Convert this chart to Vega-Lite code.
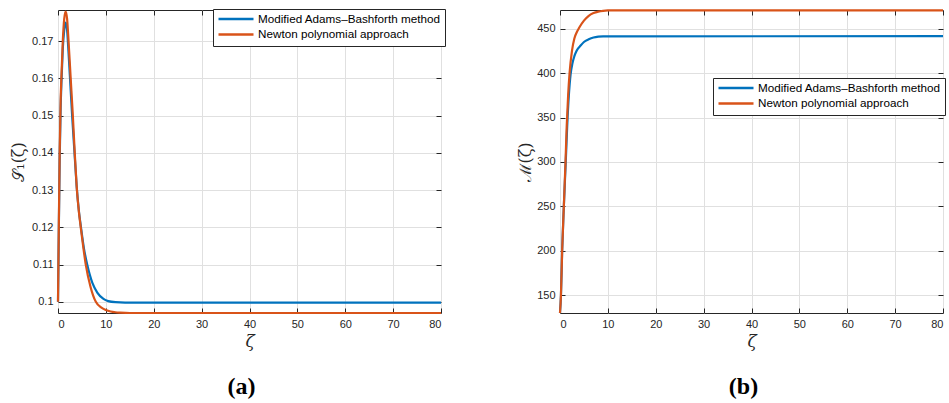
{
  "$schema": "https://vega.github.io/schema/vega-lite/v6.json",
  "background": "white",
  "padding": {"left": 10, "top": 5, "right": 5, "bottom": 5},
  "bounds": "flush",
  "spacing": 119,
  "config": {
    "view": {"stroke": "#262626", "strokeWidth": 1},
    "axis": {
      "labelFont": "Liberation Sans", "labelFontSize": 11, "labelColor": "#262626",
      "tickColor": "#262626", "domainColor": "#262626", "gridColor": "#e0e0e0", "gridWidth": 1,
      "titleFont": "DejaVu Serif", "titleFontWeight": "normal", "titleColor": "#262626"
    },
    "legend": {"labelLimit": 0, "clipHeight": 12},
    "title": {"font": "Liberation Serif", "fontWeight": "bold", "fontSize": 24, "color": "#000000"}
  },
  "resolve": {"scale": {"color": "independent", "x": "independent", "y": "independent"}, "legend": {"color": "independent"}},
  "datasets": {
    "a": [
      {"method": "Modified Adams–Bashforth method", "zeta": 0, "value": 0.100},
      {"method": "Modified Adams–Bashforth method", "zeta": 0.15, "value": 0.117},
      {"method": "Modified Adams–Bashforth method", "zeta": 0.35, "value": 0.138},
      {"method": "Modified Adams–Bashforth method", "zeta": 0.55, "value": 0.152},
      {"method": "Modified Adams–Bashforth method", "zeta": 0.75, "value": 0.160},
      {"method": "Modified Adams–Bashforth method", "zeta": 1.0, "value": 0.168},
      {"method": "Modified Adams–Bashforth method", "zeta": 1.3, "value": 0.173},
      {"method": "Modified Adams–Bashforth method", "zeta": 1.6, "value": 0.175},
      {"method": "Modified Adams–Bashforth method", "zeta": 1.9, "value": 0.173},
      {"method": "Modified Adams–Bashforth method", "zeta": 2.2, "value": 0.167},
      {"method": "Modified Adams–Bashforth method", "zeta": 2.6, "value": 0.158},
      {"method": "Modified Adams–Bashforth method", "zeta": 3.0, "value": 0.149},
      {"method": "Modified Adams–Bashforth method", "zeta": 3.45, "value": 0.140},
      {"method": "Modified Adams–Bashforth method", "zeta": 3.9, "value": 0.131},
      {"method": "Modified Adams–Bashforth method", "zeta": 4.4, "value": 0.124},
      {"method": "Modified Adams–Bashforth method", "zeta": 4.8, "value": 0.120},
      {"method": "Modified Adams–Bashforth method", "zeta": 5.4, "value": 0.1145},
      {"method": "Modified Adams–Bashforth method", "zeta": 6.1, "value": 0.110},
      {"method": "Modified Adams–Bashforth method", "zeta": 7.2, "value": 0.105},
      {"method": "Modified Adams–Bashforth method", "zeta": 8.2, "value": 0.1025},
      {"method": "Modified Adams–Bashforth method", "zeta": 9.5, "value": 0.1008},
      {"method": "Modified Adams–Bashforth method", "zeta": 10.5, "value": 0.1002},
      {"method": "Modified Adams–Bashforth method", "zeta": 12, "value": 0.0999},
      {"method": "Modified Adams–Bashforth method", "zeta": 14, "value": 0.0998},
      {"method": "Modified Adams–Bashforth method", "zeta": 80, "value": 0.0998},
      {"method": "Newton polynomial approach", "zeta": 0, "value": 0.100},
      {"method": "Newton polynomial approach", "zeta": 0.15, "value": 0.118},
      {"method": "Newton polynomial approach", "zeta": 0.35, "value": 0.140},
      {"method": "Newton polynomial approach", "zeta": 0.55, "value": 0.154},
      {"method": "Newton polynomial approach", "zeta": 0.7, "value": 0.160},
      {"method": "Newton polynomial approach", "zeta": 1.0, "value": 0.170},
      {"method": "Newton polynomial approach", "zeta": 1.3, "value": 0.176},
      {"method": "Newton polynomial approach", "zeta": 1.6, "value": 0.178},
      {"method": "Newton polynomial approach", "zeta": 1.9, "value": 0.176},
      {"method": "Newton polynomial approach", "zeta": 2.2, "value": 0.170},
      {"method": "Newton polynomial approach", "zeta": 2.65, "value": 0.160},
      {"method": "Newton polynomial approach", "zeta": 3.1, "value": 0.150},
      {"method": "Newton polynomial approach", "zeta": 3.5, "value": 0.140},
      {"method": "Newton polynomial approach", "zeta": 3.9, "value": 0.131},
      {"method": "Newton polynomial approach", "zeta": 4.3, "value": 0.125},
      {"method": "Newton polynomial approach", "zeta": 4.75, "value": 0.120},
      {"method": "Newton polynomial approach", "zeta": 5.3, "value": 0.1145},
      {"method": "Newton polynomial approach", "zeta": 5.8, "value": 0.110},
      {"method": "Newton polynomial approach", "zeta": 6.8, "value": 0.1040},
      {"method": "Newton polynomial approach", "zeta": 7.9, "value": 0.1000},
      {"method": "Newton polynomial approach", "zeta": 9, "value": 0.0985},
      {"method": "Newton polynomial approach", "zeta": 10, "value": 0.0978},
      {"method": "Newton polynomial approach", "zeta": 11, "value": 0.0974},
      {"method": "Newton polynomial approach", "zeta": 12, "value": 0.0972},
      {"method": "Newton polynomial approach", "zeta": 13, "value": 0.0971},
      {"method": "Newton polynomial approach", "zeta": 15, "value": 0.0970},
      {"method": "Newton polynomial approach", "zeta": 80, "value": 0.0970}
    ],
    "b": [
      {"method": "Modified Adams–Bashforth method", "zeta": 0, "value": 130},
      {"method": "Modified Adams–Bashforth method", "zeta": 0.2, "value": 150},
      {"method": "Modified Adams–Bashforth method", "zeta": 0.45, "value": 200},
      {"method": "Modified Adams–Bashforth method", "zeta": 0.8, "value": 250},
      {"method": "Modified Adams–Bashforth method", "zeta": 1.2, "value": 300},
      {"method": "Modified Adams–Bashforth method", "zeta": 1.5, "value": 340},
      {"method": "Modified Adams–Bashforth method", "zeta": 1.85, "value": 375},
      {"method": "Modified Adams–Bashforth method", "zeta": 2.2, "value": 398},
      {"method": "Modified Adams–Bashforth method", "zeta": 2.6, "value": 411},
      {"method": "Modified Adams–Bashforth method", "zeta": 3.0, "value": 419},
      {"method": "Modified Adams–Bashforth method", "zeta": 3.5, "value": 425.5},
      {"method": "Modified Adams–Bashforth method", "zeta": 4.3, "value": 431},
      {"method": "Modified Adams–Bashforth method", "zeta": 5.0, "value": 435},
      {"method": "Modified Adams–Bashforth method", "zeta": 6.0, "value": 438},
      {"method": "Modified Adams–Bashforth method", "zeta": 7.0, "value": 440},
      {"method": "Modified Adams–Bashforth method", "zeta": 8.0, "value": 441},
      {"method": "Modified Adams–Bashforth method", "zeta": 9.0, "value": 441.4},
      {"method": "Modified Adams–Bashforth method", "zeta": 80, "value": 441.5},
      {"method": "Newton polynomial approach", "zeta": 0, "value": 130},
      {"method": "Newton polynomial approach", "zeta": 0.2, "value": 150},
      {"method": "Newton polynomial approach", "zeta": 0.45, "value": 200},
      {"method": "Newton polynomial approach", "zeta": 0.8, "value": 250},
      {"method": "Newton polynomial approach", "zeta": 1.15, "value": 300},
      {"method": "Newton polynomial approach", "zeta": 1.4, "value": 340},
      {"method": "Newton polynomial approach", "zeta": 1.7, "value": 375},
      {"method": "Newton polynomial approach", "zeta": 2.0, "value": 400},
      {"method": "Newton polynomial approach", "zeta": 2.5, "value": 425},
      {"method": "Newton polynomial approach", "zeta": 3.0, "value": 439},
      {"method": "Newton polynomial approach", "zeta": 3.5, "value": 446},
      {"method": "Newton polynomial approach", "zeta": 4.0, "value": 451},
      {"method": "Newton polynomial approach", "zeta": 5.0, "value": 459},
      {"method": "Newton polynomial approach", "zeta": 6.0, "value": 464.5},
      {"method": "Newton polynomial approach", "zeta": 7.0, "value": 467.5},
      {"method": "Newton polynomial approach", "zeta": 8.0, "value": 469.2},
      {"method": "Newton polynomial approach", "zeta": 9.0, "value": 470.1},
      {"method": "Newton polynomial approach", "zeta": 10, "value": 470.5},
      {"method": "Newton polynomial approach", "zeta": 80, "value": 470.5}
    ]
  },
  "hconcat": [
    {
      "width": 383, "height": 303,
      "title": {"text": "(a)", "orient": "bottom", "offset": 26, "dx": -8},
      "data": {"name": "a"},
      "layer": [
        {
          "mark": {"type": "line", "strokeWidth": 2.2, "interpolate": "monotone"},
          "encoding": {
            "x": {"field": "zeta", "type": "quantitative", "scale": {"domain": [0, 80], "nice": false},
              "axis": {"orient": "bottom", "values": [0, 10, 20, 30, 40, 50, 60, 70, 80], "title": "ζ", "titleFontStyle": "italic", "titleFontSize": 17, "titlePadding": 4, "tickSize": -5, "labelPadding": 10, "grid": true, "domain": false}},
            "y": {"field": "value", "type": "quantitative", "scale": {"domain": [0.097, 0.1784], "nice": false, "zero": false},
              "axis": {"orient": "left", "values": [0.1, 0.11, 0.12, 0.13, 0.14, 0.15, 0.16, 0.17], "format": ".2~f", "title": "𝒮₁(ζ)", "titleFontSize": 16, "titlePadding": 5, "tickSize": -5, "labelPadding": 10, "grid": true, "domain": false}},
            "color": {"field": "method", "type": "nominal",
              "scale": {"domain": ["Modified Adams–Bashforth method", "Newton polynomial approach"], "range": ["#0072BD", "#D95319"]},
              "legend": {"orient": "none", "legendX": 155, "legendY": -1, "title": null, "symbolType": "stroke", "symbolSize": 1225, "symbolStrokeWidth": 2.5, "labelFont": "Liberation Sans", "labelFontSize": 11.7, "labelColor": "#000000", "strokeColor": "#262626", "fillColor": "white", "padding": 4, "rowPadding": 2.4, "labelOffset": 3, "labelLimit": 0, "clipHeight": 12}}
          }
        },
        {
          "mark": {"type": "point", "opacity": 0},
          "encoding": {
            "x": {"field": "zeta", "type": "quantitative", "axis": {"orient": "top", "values": [0, 10, 20, 30, 40, 50, 60, 70, 80], "labels": false, "title": null, "tickSize": -5, "grid": false, "domain": false}},
            "y": {"field": "value", "type": "quantitative", "axis": {"orient": "right", "values": [0.1, 0.11, 0.12, 0.13, 0.14, 0.15, 0.16, 0.17], "labels": false, "title": null, "tickSize": -5, "grid": false, "domain": false}}
          }
        }
      ],
      "resolve": {"axis": {"x": "independent", "y": "independent"}}
    },
    {
      "width": 383, "height": 303,
      "title": {"text": "(b)", "orient": "bottom", "offset": 26, "dx": -8},
      "data": {"name": "b"},
      "layer": [
        {
          "mark": {"type": "line", "strokeWidth": 2.2, "interpolate": "monotone"},
          "encoding": {
            "x": {"field": "zeta", "type": "quantitative", "scale": {"domain": [0, 80], "nice": false},
              "axis": {"orient": "bottom", "values": [0, 10, 20, 30, 40, 50, 60, 70, 80], "title": "ζ", "titleFontStyle": "italic", "titleFontSize": 17, "titlePadding": 4, "tickSize": -5, "labelPadding": 10, "grid": true, "domain": false}},
            "y": {"field": "value", "type": "quantitative", "scale": {"domain": [130, 471], "nice": false, "zero": false},
              "axis": {"orient": "left", "values": [150, 200, 250, 300, 350, 400, 450], "title": "ℳ(ζ)", "titleFontSize": 16, "titlePadding": 3, "tickSize": -5, "labelPadding": 10, "grid": true, "domain": false}},
            "color": {"field": "method", "type": "nominal",
              "scale": {"domain": ["Modified Adams–Bashforth method", "Newton polynomial approach"], "range": ["#0072BD", "#D95319"]},
              "legend": {"orient": "none", "legendX": 153, "legendY": 68, "title": null, "symbolType": "stroke", "symbolSize": 1225, "symbolStrokeWidth": 2.5, "labelFont": "Liberation Sans", "labelFontSize": 11.7, "labelColor": "#000000", "strokeColor": "#262626", "fillColor": "white", "padding": 4, "rowPadding": 2.4, "labelOffset": 3, "labelLimit": 0, "clipHeight": 12}}
          }
        },
        {
          "mark": {"type": "point", "opacity": 0},
          "encoding": {
            "x": {"field": "zeta", "type": "quantitative", "axis": {"orient": "top", "values": [0, 10, 20, 30, 40, 50, 60, 70, 80], "labels": false, "title": null, "tickSize": -5, "grid": false, "domain": false}},
            "y": {"field": "value", "type": "quantitative", "axis": {"orient": "right", "values": [150, 200, 250, 300, 350, 400, 450], "labels": false, "title": null, "tickSize": -5, "grid": false, "domain": false}}
          }
        }
      ],
      "resolve": {"axis": {"x": "independent", "y": "independent"}}
    }
  ]
}
